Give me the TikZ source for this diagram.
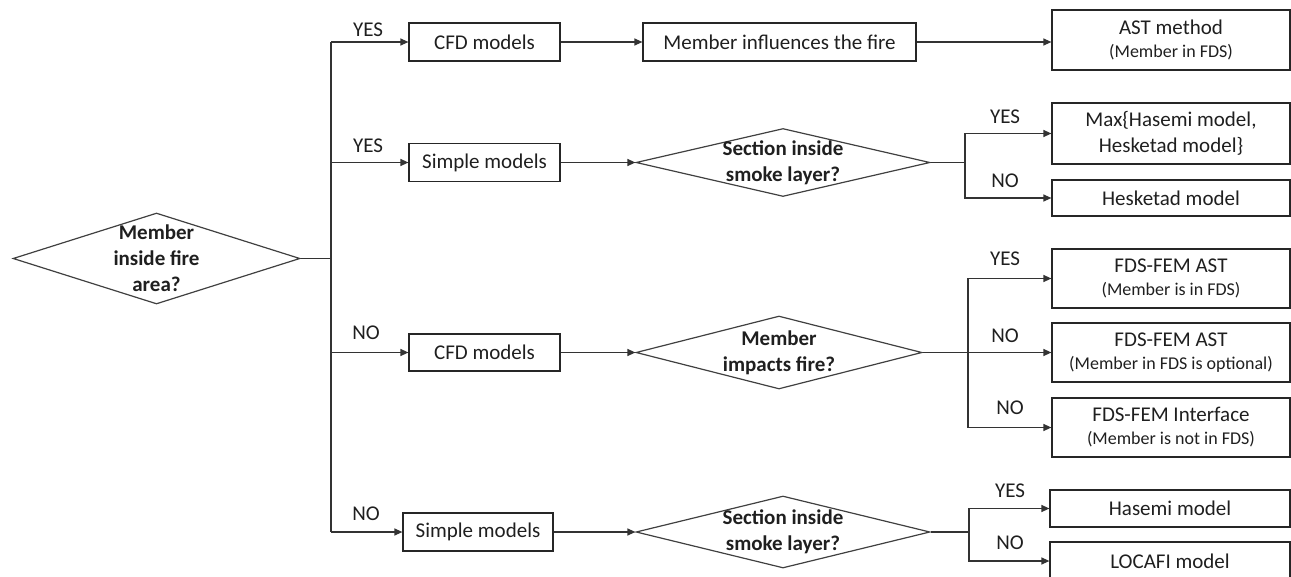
\documentclass[tikz,border=0pt]{standalone}
\usepackage{fontspec}
\setmainfont{Carlito}
\usetikzlibrary{arrows.meta,shapes.geometric,calc}

\newcommand{\subfont}{\fontsize{18}{22}\selectfont}

\begin{document}
\begin{tikzpicture}[x=1pt,y=-1pt,
  font=\fontsize{21}{26}\selectfont,
  every node/.style={text=black!88},
  box/.style={draw=black!85, line width=1.2pt, rectangle, inner sep=0pt,
              align=center, minimum height=38pt},
  dec/.style={draw=black!75, line width=1.2pt, shape=diamond, inner sep=0pt},
  dtxt/.style={font=\fontsize{21}{26}\selectfont\bfseries, align=center, inner sep=0pt},
  lbl/.style={inner sep=0pt},
  conn/.style={draw=black!80, line width=1.2pt},
  arr/.style={conn, -{Triangle[length=8pt,width=7pt]}}
]
\useasboundingbox (0,0) rectangle (1291,576);
\clip (0,0) rectangle (1291,576);

% decision on the left
\node[dec, minimum width=287pt, minimum height=91pt,
      label={[dtxt]center:Member\\inside fire\\area?}] (m) at (156.5,258.5) {};
\coordinate (trunk) at (331,258.5);

% first branch: CFD models, member inside fire
\node[box, minimum width=151pt] (cfdA) at (484.5,42) {CFD models};
\node[box, minimum width=273pt] (infl) at (779.5,42) {Member influences the fire};
\node[box, minimum width=238pt, minimum height=60pt] (ast) at (1171,40)
  {AST method\\[-3pt]{\subfont (Member in FDS)}};

% second branch: simple models, member inside fire
\node[box, minimum width=151pt] (simpB) at (484.5,162.5) {Simple models};
\node[dec, minimum width=294pt, minimum height=68pt,
      label={[dtxt]center:Section inside\\smoke layer?}] (decB) at (783,162.5) {};
\coordinate (forkB) at (965,162.5);
\node[box, minimum width=238pt, minimum height=61pt] (maxh) at (1171,133.5)
  {Max\{Hasemi model,\\Hesketad model\}};
\node[box, minimum width=238pt, minimum height=36pt] (hesk) at (1171,198) {Hesketad model};

% third branch: CFD models, member outside fire
\node[box, minimum width=151pt, minimum height=37pt] (cfdC) at (484.5,352.5) {CFD models};
\node[dec, minimum width=286pt, minimum height=73pt,
      label={[dtxt]center:Member\\impacts fire?}] (decC) at (779,352.5) {};
\coordinate (forkC) at (968,352.5);
\node[box, minimum width=238pt, minimum height=59pt] (femA) at (1171,278.5)
  {FDS-FEM AST\\[-3pt]{\subfont (Member is in FDS)}};
\node[box, minimum width=238pt, minimum height=59pt] (femB) at (1171,352.5)
  {FDS-FEM AST\\[-3pt]{\subfont (Member in FDS is optional)}};
\node[box, minimum width=238pt, minimum height=59pt] (femC) at (1171,427.5)
  {FDS-FEM Interface\\[-3pt]{\subfont (Member is not in FDS)}};

% fourth branch: simple models, member outside fire
\node[box, minimum width=150pt] (simpD) at (478,532) {Simple models};
\node[dec, minimum width=294pt, minimum height=72pt,
      label={[dtxt]center:Section inside\\smoke layer?}] (decD) at (783,532) {};
\coordinate (forkD) at (969,532);
\node[box, minimum width=240pt, minimum height=37pt] (hase) at (1170,508.5) {Hasemi model};
\node[box, minimum width=240pt, minimum height=38pt] (loca) at (1170,561) {LOCAFI model};

% branch labels
\node[lbl] (yA) at (368,30) {YES};
\node[lbl] (yB) at (368,146) {YES};
\node[lbl] (nC) at (366,333) {NO};
\node[lbl] (nD) at (366,514) {NO};
\node[lbl] (yB1) at (1005,117) {YES};
\node[lbl] (nB2) at (1005,181) {NO};
\node[lbl] (yC1) at (1005,259) {YES};
\node[lbl] (nC2) at (1005,336) {NO};
\node[lbl] (nC3) at (1010,408) {NO};
\node[lbl] (yD1) at (1010,491) {YES};
\node[lbl] (nD2) at (1010,543) {NO};

% connectors
\draw[conn] (m.east) -- (trunk);
\draw[conn] (trunk |- cfdA) -- (trunk |- simpD);
\draw[arr] (trunk |- cfdA) -- (cfdA.west);
\draw[arr] (trunk |- simpB) -- (simpB.west);
\draw[arr] (trunk |- cfdC) -- (cfdC.west);
\draw[arr] (trunk |- simpD) -- (simpD.west);

\draw[arr] (cfdA.east) -- (infl.west);
\draw[arr] (infl.east) -- (infl.east -| ast.west);

\draw[arr] (simpB.east) -- (decB.west);
\draw[conn] (decB.east) -- (forkB);
\draw[arr] (forkB) |- (maxh.west);
\draw[arr] (forkB) |- (hesk.west);

\draw[arr] (cfdC.east) -- (decC.west);
\draw[conn] (decC.east) -- (forkC);
\draw[arr] (forkC) |- (femA.west);
\draw[arr] (forkC) -- (femB.west);
\draw[arr] (forkC) |- (femC.west);

\draw[arr] (simpD.east) -- (decD.west);
\draw[conn] (decD.east) -- (forkD);
\draw[arr] (forkD) |- (hase.west);
\draw[arr] (forkD) |- (loca.west);
\end{tikzpicture}
\end{document}
